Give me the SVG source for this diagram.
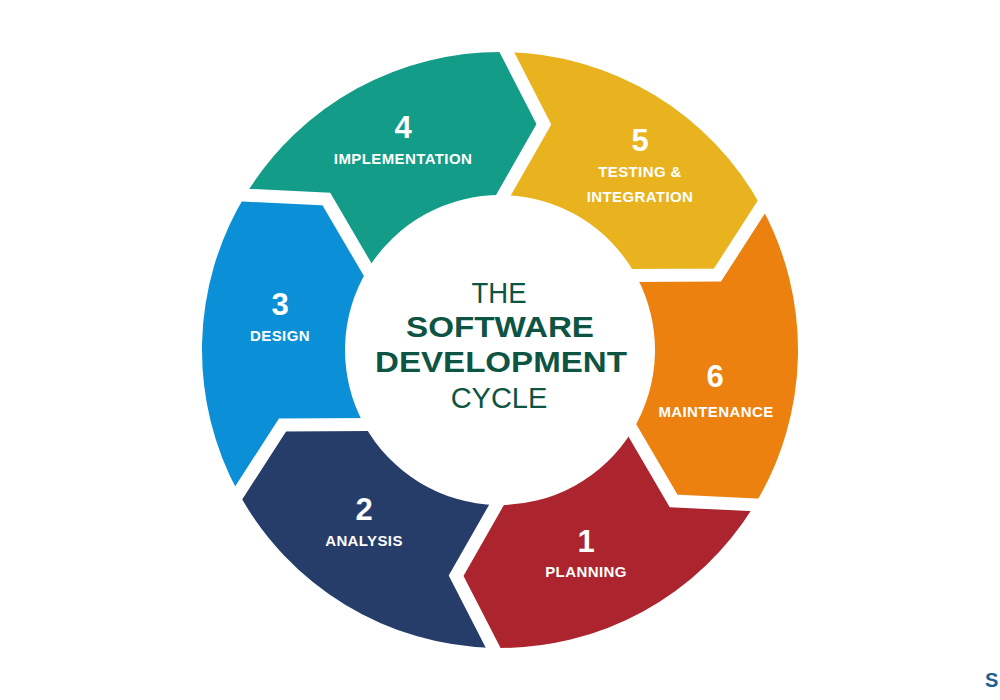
<svg xmlns="http://www.w3.org/2000/svg" width="1000" height="700" viewBox="0 0 1000 700">
<style>
.num{font-family:"Liberation Sans",Arial,Helvetica,sans-serif;font-weight:bold;font-size:31px;fill:#ffffff;text-anchor:middle}
.lbl{font-family:"Liberation Sans",Arial,Helvetica,sans-serif;font-weight:bold;font-size:15px;fill:#ffffff;text-anchor:middle;letter-spacing:0.4px}
.gap{fill:none;stroke:#ffffff;stroke-width:13;stroke-linecap:square;stroke-linejoin:miter}
.treg{font-family:"Liberation Sans",Arial,Helvetica,sans-serif;font-size:29px;fill:#0e5443;text-anchor:middle}
.tbold{font-family:"Liberation Sans",Arial,Helvetica,sans-serif;font-weight:bold;font-size:29px;fill:#0e5443;text-anchor:middle}
</style>
<rect x="0" y="0" width="1000" height="700" fill="#ffffff"/>

<g id="step4-implementation">
<path fill="#139c87" d="M245.37,195.18 A298,298 0 0 1 506.76,52.08 L543.89,124.23 L503.52,195.04 A155,155 0 0 0 367.56,269.47 L326.42,199.11 Z"/>
<text class="num" x="403" y="138">4</text>
<text class="lbl" x="403" y="164">IMPLEMENTATION</text>
</g>

<g id="step5-testing">
<path fill="#e9b31f" d="M506.76,52.08 A298,298 0 0 1 761.39,206.89 L717.47,275.12 L635.96,275.57 A155,155 0 0 0 503.52,195.04 L543.89,124.23 Z"/>
<text class="num" x="640" y="151">5</text>
<text class="lbl" x="640" y="177">TESTING &amp;</text>
<text class="lbl" x="640" y="202">INTEGRATION</text>
</g>

<g id="step6-maintenance">
<path fill="#ec8110" d="M761.39,206.89 A298,298 0 0 1 754.63,504.82 L673.58,500.89 L632.44,430.53 A155,155 0 0 0 635.96,275.57 L717.47,275.12 Z"/>
<text class="num" x="715" y="387">6</text>
<text class="lbl" x="716" y="417">MAINTENANCE</text>
</g>

<g id="step1-planning">
<path fill="#ab242e" d="M754.63,504.82 A298,298 0 0 1 493.24,647.92 L456.11,575.77 L496.48,504.96 A155,155 0 0 0 632.44,430.53 L673.58,500.89 Z"/>
<text class="num" x="586" y="552">1</text>
<text class="lbl" x="586" y="577">PLANNING</text>
</g>

<g id="step2-analysis">
<path fill="#263c69" d="M493.24,647.92 A298,298 0 0 1 238.61,493.11 L282.53,424.88 L364.04,424.43 A155,155 0 0 0 496.48,504.96 L456.11,575.77 Z"/>
<text class="num" x="364" y="520">2</text>
<text class="lbl" x="364" y="546">ANALYSIS</text>
</g>

<g id="step3-design">
<path fill="#0b8fd7" d="M238.61,493.11 A298,298 0 0 1 245.37,195.18 L326.42,199.11 L367.56,269.47 A155,155 0 0 0 364.04,424.43 L282.53,424.88 Z"/>
<text class="num" x="280" y="315">3</text>
<text class="lbl" x="280" y="341">DESIGN</text>
</g>

<g id="separators">
<polyline class="gap" points="506.76,52.08 543.89,124.23 503.52,195.04"/>
<polyline class="gap" points="761.39,206.89 717.47,275.12 635.96,275.57"/>
<polyline class="gap" points="754.63,504.82 673.58,500.89 632.44,430.53"/>
<polyline class="gap" points="493.24,647.92 456.11,575.77 496.48,504.96"/>
<polyline class="gap" points="238.61,493.11 282.53,424.88 364.04,424.43"/>
<polyline class="gap" points="245.37,195.18 326.42,199.11 367.56,269.47"/>
</g>

<g id="title">
<text class="treg" x="499" y="303" textLength="55" lengthAdjust="spacingAndGlyphs">THE</text>
<text class="tbold" x="500" y="337" textLength="188" lengthAdjust="spacingAndGlyphs">SOFTWARE</text>
<text class="tbold" x="501" y="372" textLength="252" lengthAdjust="spacingAndGlyphs">DEVELOPMENT</text>
<text class="treg" x="499" y="408">CYCLE</text>
</g>

<text x="985" y="687" font-family="Liberation Sans,Arial,sans-serif" font-weight="bold" font-size="20" fill="#1d5f8f">S</text>
</svg>
